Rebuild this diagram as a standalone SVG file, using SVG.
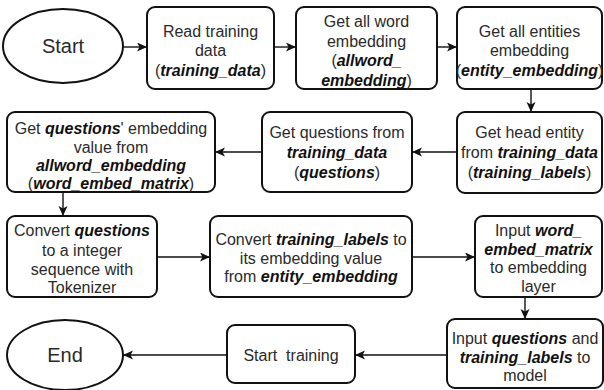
<svg xmlns="http://www.w3.org/2000/svg" width="604" height="390" viewBox="0 0 604 390">
  <defs>
    <marker id="arrow" markerUnits="userSpaceOnUse" markerWidth="11" markerHeight="10" refX="10" refY="4.5" orient="auto">
      <path d="M0,0 L10,4.5 L0,9 L2.5,4.5 z" fill="#111"/>
    </marker>
    <style>
      .box { fill: #fff; stroke: #111; stroke-width: 2; }
      .term { fill: #fff; stroke: #111; stroke-width: 2; }
      .edge { fill: none; stroke: #111; stroke-width: 1.4; marker-end: url(#arrow); }
      text { font-family: "Liberation Sans", Arial, sans-serif; font-size: 16px; fill: #2a2a2a; text-anchor: middle; }
      .big { font-size: 20px; }
      .em { font-weight: bold; font-style: italic; fill: #111; }
    </style>
  </defs>
  <rect width="604" height="390" fill="#fff"/>

  <!-- connectors -->
  <g id="connectors">
    <line class="edge" x1="123" y1="47" x2="147" y2="47"/>
    <line class="edge" x1="274" y1="47" x2="296" y2="47"/>
    <line class="edge" x1="437" y1="47" x2="457" y2="47"/>
    <line class="edge" x1="531" y1="89" x2="531" y2="112"/>
    <line class="edge" x1="457" y1="152" x2="412" y2="152"/>
    <line class="edge" x1="262" y1="152" x2="215" y2="152"/>
    <line class="edge" x1="63" y1="192" x2="63" y2="216"/>
    <line class="edge" x1="157" y1="257" x2="210" y2="257"/>
    <line class="edge" x1="412" y1="257" x2="475" y2="257"/>
    <line class="edge" x1="525" y1="297" x2="525" y2="319"/>
    <line class="edge" x1="447" y1="355" x2="355" y2="355"/>
    <line class="edge" x1="227" y1="355" x2="123" y2="355"/>
  </g>

  <!-- start -->
  <g id="start">
    <ellipse class="term" cx="63" cy="46" rx="60" ry="37"/>
    <text class="big" x="63" y="53">Start</text>
  </g>

  <g id="read-training-data">
    <rect class="box" x="147" y="7" width="127" height="82" rx="8"/>
    <text x="210.5" y="37">Read training</text>
    <text x="210.5" y="56">data</text>
    <text x="210.5" y="76">(<tspan class="em">training_data</tspan>)</text>
  </g>

  <g id="word-embedding">
    <rect class="box" x="296" y="7" width="141" height="82" rx="8"/>
    <text x="366.5" y="27">Get all word</text>
    <text x="366.5" y="46.5">embedding</text>
    <text x="366.5" y="66">(<tspan class="em">allword_</tspan></text>
    <text x="366.5" y="85.5"><tspan class="em">embedding</tspan>)</text>
  </g>

  <g id="entity-embedding">
    <rect class="box" x="457" y="7" width="145" height="82" rx="8"/>
    <text x="529.5" y="37">Get all entities</text>
    <text x="529.5" y="56">embedding</text>
    <text x="529.5" y="76">(<tspan class="em">entity_embedding</tspan>)</text>
  </g>

  <g id="head-entity">
    <rect class="box" x="457" y="112" width="145" height="81" rx="8"/>
    <text x="529.5" y="138">Get head entity</text>
    <text x="529.5" y="158">from <tspan class="em">training_data</tspan></text>
    <text x="529.5" y="178">(<tspan class="em">training_labels</tspan>)</text>
  </g>

  <g id="get-questions">
    <rect class="box" x="262" y="112" width="150" height="80" rx="8"/>
    <text x="337" y="138">Get questions from</text>
    <text x="337" y="158"><tspan class="em">training_data</tspan></text>
    <text x="337" y="178">(<tspan class="em">questions</tspan>)</text>
  </g>

  <g id="question-embedding">
    <rect class="box" x="7" y="112" width="208" height="80" rx="8"/>
    <text x="111" y="134">Get <tspan class="em">questions</tspan>' embedding</text>
    <text x="111" y="153">value from</text>
    <text x="111" y="171"><tspan class="em">allword_embedding</tspan></text>
    <text x="111" y="189">(<tspan class="em">word_embed_matrix</tspan>)</text>
  </g>

  <g id="tokenize">
    <rect class="box" x="7" y="216" width="150" height="81" rx="8"/>
    <text x="82" y="236">Convert <tspan class="em">questions</tspan></text>
    <text x="82" y="256">to a integer</text>
    <text x="82" y="274.5">sequence with</text>
    <text x="82" y="293">Tokenizer</text>
  </g>

  <g id="convert-labels">
    <rect class="box" x="210" y="216" width="202" height="81" rx="8"/>
    <text x="311" y="245">Convert <tspan class="em">training_labels</tspan> to</text>
    <text x="311" y="263.5">its embedding value</text>
    <text x="311" y="282">from <tspan class="em">entity_embedding</tspan></text>
  </g>

  <g id="embedding-layer">
    <rect class="box" x="475" y="216" width="127" height="81" rx="8"/>
    <text x="538.5" y="236">Input <tspan class="em">word_</tspan></text>
    <text x="538.5" y="254.5"><tspan class="em">embed_matrix</tspan></text>
    <text x="538.5" y="273">to embedding</text>
    <text x="538.5" y="292">layer</text>
  </g>

  <g id="model-input">
    <rect class="box" x="447" y="319" width="156" height="69" rx="8"/>
    <text x="525" y="344">Input <tspan class="em">questions</tspan> and</text>
    <text x="525" y="363"><tspan class="em">training_labels</tspan> to</text>
    <text x="525" y="381">model</text>
  </g>

  <g id="start-training">
    <rect class="box" x="227" y="325" width="128" height="58" rx="8"/>
    <text x="291" y="361" xml:space="preserve">Start  training</text>
  </g>

  <!-- end -->
  <g id="end">
    <ellipse class="term" cx="65" cy="355" rx="58" ry="35"/>
    <text class="big" x="65" y="362">End</text>
  </g>
</svg>
